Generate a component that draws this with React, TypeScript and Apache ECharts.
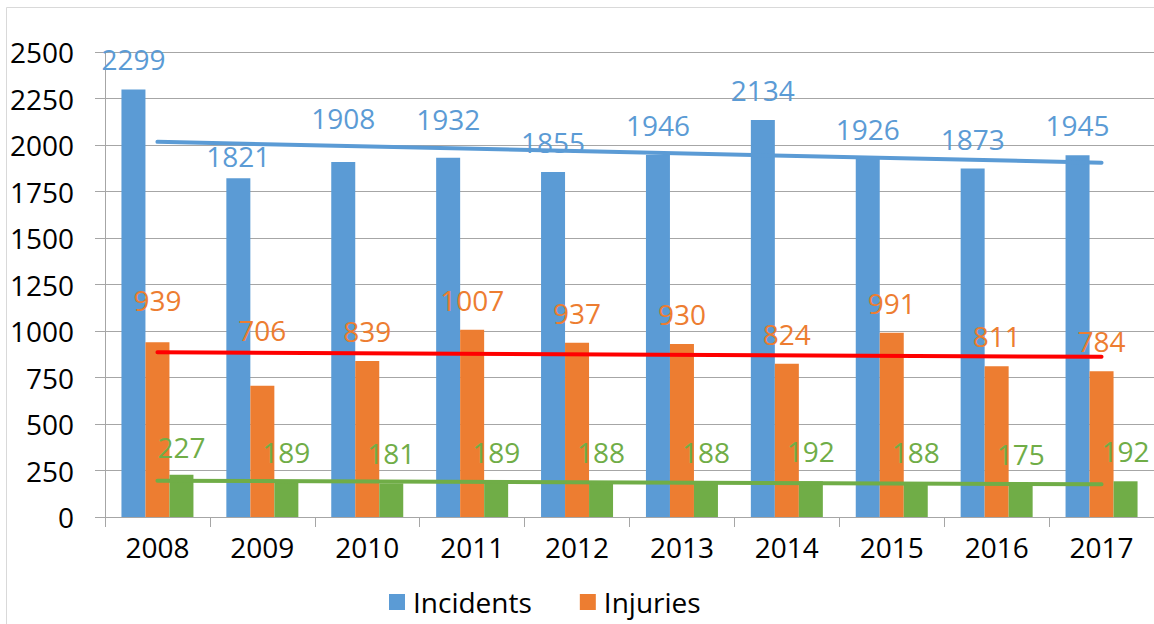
import React, { useEffect, useRef } from "react";
import * as echarts from "echarts";

const years = ["2008", "2009", "2010", "2011", "2012", "2013", "2014", "2015", "2016", "2017"];
const incidents = [2299, 1821, 1908, 1932, 1855, 1946, 2134, 1926, 1873, 1945];
const injuries = [939, 706, 839, 1007, 937, 930, 824, 991, 811, 784];
const third = [227, 189, 181, 189, 188, 188, 192, 188, 175, 192];

// trend line end points (first year, last year)
const incidentsTrend = [2017, 1905];
const injuriesTrend = [886, 861];
const thirdTrend = [195, 176];

// extra lift of individual value labels (px), as placed in the reference
const incidentsLabelLift = [0, -8, 14, 9, 0, 0, 0, 0, 0, 0];
const injuriesLabelLift = [12, 26, 0, 0, 0, 0, 0, 0, 0, 0];
const thirdLabelLift = [-2, 0, 0, 0, 0, 0, 0, 0, 0, 0];

const yMin = 0;
const yMax = 2500;
const yStep = 250;

const BLUE = "#5B9BD5";
const ORANGE = "#ED7D31";
const GREEN = "#70AD47";
const RED = "#FF0000";
const GRID = "#A6A6A6";
const FONT = "Open Sans";

const BASE_DIST = 16;

function barData(values: number[], lift: number[]) {
  return values.map((v, i) => ({
    value: v,
    label: { distance: BASE_DIST + lift[i] },
  }));
}

function trendData(ends: number[]) {
  return years.map((_, i) => (i === 0 ? ends[0] : i === years.length - 1 ? ends[1] : null));
}

export default function App() {
  const ref = useRef<HTMLDivElement>(null);

  useEffect(() => {
    if (!ref.current) return;
    const chart = echarts.init(ref.current, undefined, { renderer: "svg" });

    const barLabel = (color: string) => ({
      show: true,
      position: "top" as const,
      color,
      fontFamily: FONT,
      fontSize: 28,
    });

    const trend = (name: string, ends: number[], color: string) => ({
      name,
      type: "line" as const,
      data: trendData(ends),
      connectNulls: true,
      showSymbol: false,
      symbol: "none",
      silent: true,
      z: 5,
      lineStyle: { color, width: 4, cap: "round" as const },
    });

    chart.setOption({
      animation: false,
      backgroundColor: "#ffffff",
      textStyle: { fontFamily: FONT },
      graphic: [
        {
          type: "rect",
          shape: { x: 6.5, y: 7.5, width: 2000, height: 2000 },
          style: { fill: "none", stroke: "#D9D9D9", lineWidth: 1 },
          silent: true,
          z: -10,
        },
      ],
      legend: {
        data: ["Incidents", "Injuries"],
        left: 384,
        top: 583,
        itemWidth: 16,
        itemHeight: 16,
        itemGap: 48,
        icon: "rect",
        textStyle: {
          fontFamily: FONT,
          fontSize: 28,
          color: "#000000",
          padding: [0, 0, 0, 3],
        },
      },
      grid: { left: 105, top: 52, width: 1054, height: 465, containLabel: false },
      xAxis: {
        type: "category",
        data: years,
        axisLine: { show: true, lineStyle: { color: GRID, width: 1 } },
        axisTick: { show: true, length: 10, lineStyle: { color: GRID } },
        axisLabel: { color: "#000000", fontFamily: FONT, fontSize: 28, margin: 16 },
        splitLine: { show: false },
      },
      yAxis: {
        type: "value",
        min: yMin,
        max: yMax,
        interval: yStep,
        axisLine: { show: true, lineStyle: { color: GRID, width: 1 } },
        axisTick: { show: true, length: 10, lineStyle: { color: GRID } },
        axisLabel: {
          color: "#000000",
          fontFamily: FONT,
          fontSize: 28,
          margin: 31,
          formatter: (v: number) => String(v),
        },
        splitLine: { show: true, lineStyle: { color: GRID, width: 1 } },
      },
      series: [
        {
          name: "Incidents",
          type: "bar",
          data: barData(incidents, incidentsLabelLift),
          barWidth: 24,
          barGap: "0%",
          itemStyle: { color: BLUE },
          label: barLabel(BLUE),
        },
        {
          name: "Injuries",
          type: "bar",
          data: barData(injuries, injuriesLabelLift),
          barWidth: 24,
          barGap: "0%",
          itemStyle: { color: ORANGE },
          label: barLabel(ORANGE),
        },
        {
          name: "Third",
          type: "bar",
          data: barData(third, thirdLabelLift),
          barWidth: 24,
          barGap: "0%",
          itemStyle: { color: GREEN },
          label: barLabel(GREEN),
        },
        trend("Incidents trend", incidentsTrend, BLUE),
        trend("Injuries trend", injuriesTrend, RED),
        trend("Third trend", thirdTrend, GREEN),
      ],
    });

    return () => {
      chart.dispose();
    };
  }, []);

  return (
    <div
      ref={ref}
      style={{ position: "absolute", left: 0, top: 0, width: 1154, height: 624 }}
    />
  );
}
